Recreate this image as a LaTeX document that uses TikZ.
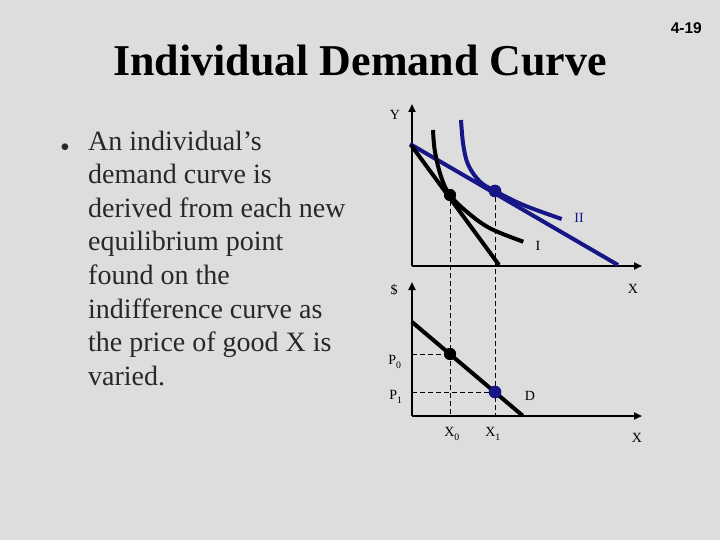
\documentclass[tikz,border=0pt]{standalone}
\usepackage{fontspec}
\setmainfont{Liberation Serif}
\newfontfamily\arialfont{Liberation Sans}
\usetikzlibrary{arrows.meta}
\definecolor{bgcol}{RGB}{221,221,221}
\definecolor{curveblue}{RGB}{22,22,135}
\definecolor{bodytext}{RGB}{40,40,40}
\begin{document}
\begin{tikzpicture}[x=1pt,y=-1pt,
  axis/.style={line width=2.8pt,-{Triangle[length=8pt,width=7pt]}},
  blackcurve/.style={line width=4pt,black},
  bluecurve/.style={line width=4pt,curveblue},
  guide/.style={line width=0.8pt,dash pattern=on 5pt off 3pt},
  lbl/.style={font=\fontsize{14}{16}\selectfont,inner sep=0pt},
  dotblack/.style={circle,fill=black,minimum size=12pt,inner sep=0pt},
  dotblue/.style={circle,fill=curveblue,minimum size=12.5pt,inner sep=0pt}]
\fill[bgcol] (0,0) rectangle (720,540);
\useasboundingbox (0,0) rectangle (720,540);
% title and page number
\node[anchor=base,inner sep=0pt,font=\fontsize{44}{50}\selectfont\bfseries] (title) at (360,76) {Individual Demand Curve};
\node[anchor=base east,inner sep=0pt,font=\arialfont\fontsize{15.5}{18}\selectfont\bfseries] (pagenum) at (702,34) {4-19};
% bullet text
\node[anchor=base,inner sep=0pt,font=\fontsize{28}{33.6}\selectfont,text=bodytext] (bullet) at (65,157) {\textbullet};
\node[anchor=north west,inner sep=0pt,align=left,text=bodytext,font=\fontsize{28}{33.6}\selectfont] (body) at (88,130.5)
 {An individual’s\\demand curve is\\derived from each new\\equilibrium point\\found on the\\indifference curve as\\the price of good X is\\varied.};
% ---- upper diagram ----
\coordinate (O1) at (412,266);
\coordinate (Ytop) at (412,104);
\coordinate (Xend) at (642,266);
\draw[axis] (O1) -- (Ytop);
\draw[axis] (O1) -- (Xend);
\node[lbl] (ylab) at (395,115) {Y};
\node[lbl] (xlab1) at (633,289) {X};
% budget lines
\coordinate (B1a) at (411,145);
\coordinate (B1b) at (499,265);
\coordinate (B2a) at (410,144);
\coordinate (B2b) at (618,265);
\draw[bluecurve] (B2a) -- (B2b);
\draw[blackcurve] (B1a) -- (B1b);
% indifference curves
\draw[blackcurve] plot[smooth,tension=0.6] coordinates {(433,130) (435,152) (441.5,178) (450,195) (466.7,211.7) (490,228.3) (523.3,241.7)};
\draw[bluecurve] plot[smooth,tension=0.6] coordinates {(461,120) (463.3,145) (468.3,165) (480,181.7) (495,191) (523.3,205) (561.7,219)};
\node[lbl,text=curveblue] (labII) at (579,218) {II};
\node[lbl] (labI) at (538,246) {I};
% ---- lower diagram ----
\coordinate (O2) at (412,416);
\coordinate (Ytop2) at (412,282);
\coordinate (Xend2) at (642,416);
\node[lbl] (dollar) at (394,290) {\$};
\node[lbl] (xlab2) at (637,438) {X};
% guides
\node[dotblack] (A) at (450,195) {};
\node[dotblue] (B) at (495,191) {};
\coordinate (A0) at (450,416);
\coordinate (B0) at (495,416);
\node[dotblack] (C) at (450,354) {};
\node[dotblue] (E) at (495,392) {};
\coordinate (C0) at (412,354);
\coordinate (E0) at (412,392);
\draw[guide] (A) -- (A0);
\draw[guide] (B) -- (B0);
\draw[guide] (C0) -- (C);
\draw[guide] (E0) -- (E);
\draw[axis] (O2) -- (Ytop2);
\draw[axis] (O2) -- (Xend2);
% demand line
\coordinate (Da) at (412,322);
\coordinate (Db) at (522.7,415.7);
\draw[blackcurve] (Da) -- (Db);
\node[dotblack] at (C) {};
\node[dotblue] at (E) {};
\node[dotblack] at (A) {};
\node[dotblue] at (B) {};
\node[lbl] (P0) at (395,362) {P\raisebox{-2pt}{\textsubscript{0}}};
\node[lbl] (P1) at (396,397) {P\raisebox{-2pt}{\textsubscript{1}}};
\node[lbl] (Dlab) at (530,396) {D};
\node[lbl] (X0) at (452,434) {X\raisebox{-2pt}{\textsubscript{0}}};
\node[lbl] (X1) at (493,434) {X\raisebox{-2pt}{\textsubscript{1}}};
\end{tikzpicture}
\end{document}
